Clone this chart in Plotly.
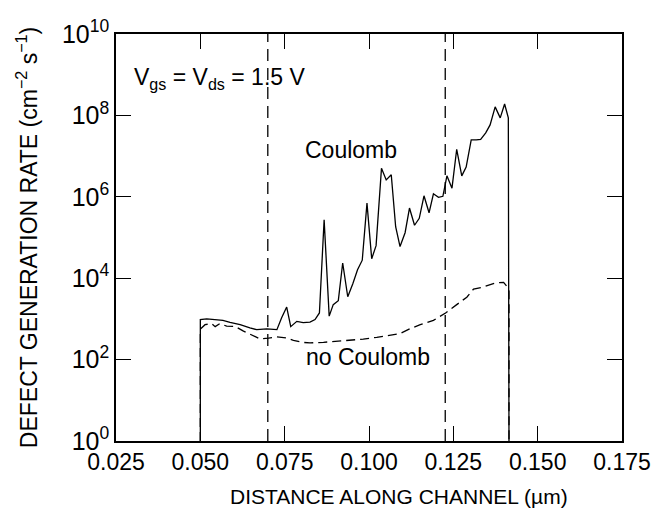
import plotly.graph_objects as go

# ---- data ----
coul_x = [0.0500, 0.0500, 0.0519, 0.0544, 0.0567, 0.0588, 0.0618, 0.0647, 0.0667, 0.0697,
          0.0727, 0.0741, 0.0756, 0.0768, 0.0786, 0.0805, 0.0825, 0.0840, 0.0853, 0.0867,
          0.0882, 0.0894, 0.0909, 0.0922, 0.0937, 0.0952, 0.0966, 0.0980, 0.0994, 0.1008,
          0.1021, 0.1037, 0.1051, 0.1066, 0.1079, 0.1092, 0.1107, 0.1120, 0.1135, 0.1149,
          0.1163, 0.1178, 0.1191, 0.1206, 0.1219, 0.1231, 0.1246, 0.1260, 0.1275, 0.1288,
          0.1303, 0.1318, 0.1331, 0.1346, 0.1359, 0.1374, 0.1389, 0.1402, 0.1413, 0.1415]
coul_y = [1, 960, 1000, 960, 920, 820, 720, 600, 545, 570,
          545, 1070, 1960, 645, 870, 810, 830, 960, 1400, 2.73e5,
          1170, 2240, 2800, 2.36e4, 3500, 7330, 1.62e4, 2.77e4, 7.0e5, 3.0e4,
          6.3e4, 5.0e6, 2.6e6, 3.47e6, 1.84e5, 6.0e4, 1.31e5, 5.3e5, 2.0e5, 2.97e5,
          1.06e6, 4.05e5, 1.19e6, 9.7e5, 1.03e6, 3.27e6, 1.63e6, 1.47e7, 3.27e6, 5.36e6,
          2.5e7, 2.5e7, 2.58e7, 3.72e7, 5.85e7, 1.62e8, 8.7e7, 1.91e8, 8.7e7, 1]

nocoul_x = [0.0500, 0.0500, 0.0514, 0.0534, 0.0544, 0.0558, 0.0578, 0.0603, 0.0628, 0.0652,
            0.0677, 0.0702, 0.0727, 0.0756, 0.0776, 0.0801, 0.0825, 0.0865, 0.0905, 0.0944,
            0.0983, 0.1023, 0.1057, 0.1092, 0.1122, 0.1152, 0.1191, 0.1227, 0.1260, 0.1290,
            0.1310, 0.1339, 0.1374, 0.1399, 0.1409, 0.1415, 0.1415]
nocoul_y = [1, 560, 722, 765, 645, 765, 664, 656, 500, 410,
            322, 337, 361, 341, 298, 266, 257, 266, 281, 301,
            319, 352, 399, 435, 576, 722, 921, 1400, 2240, 3420,
            5430, 6080, 7620, 7890, 6290, 4740, 1]

region_x = [0.0700, 0.1226]

x_ticks = [0.025, 0.050, 0.075, 0.100, 0.125, 0.150, 0.175]
x_ticktext = ["0.025", "0.050", "0.075", "0.100", "0.125", "0.150", "0.175"]
y_ticks = [1, 1e2, 1e4, 1e6, 1e8, 1e10]
y_ticktext = ["10<sup>0</sup>", "10<sup>2</sup>", "10<sup>4</sup>", "10<sup>6</sup>",
              "10<sup>8</sup>", "10<sup>10</sup>"]

FONT = "Liberation Sans, Arial, sans-serif"

fig = go.Figure()
for xv in region_x:
    fig.add_trace(go.Scatter(x=[xv, xv], y=[1, 1e10], mode="lines",
                             line=dict(color="black", width=1.3, dash="12px,7px"),
                             showlegend=False, hoverinfo="skip"))
fig.add_trace(go.Scatter(x=nocoul_x, y=nocoul_y, mode="lines",
                         line=dict(color="black", width=1.3, dash="9px,5px"),
                         showlegend=False, name="no Coulomb"))
fig.add_trace(go.Scatter(x=coul_x, y=coul_y, mode="lines",
                         line=dict(color="black", width=1.3),
                         showlegend=False, name="Coulomb"))

fig.add_annotation(x=0.0947, y=7.15, xref="x", yref="y", text="Coulomb", showarrow=False,
                   font=dict(size=23, color="black", family=FONT))
fig.add_annotation(x=0.0997, y=2.06, xref="x", yref="y", text="no Coulomb", showarrow=False,
                   font=dict(size=23, color="black", family=FONT))
fig.add_annotation(x=0.0298, y=8.9, xref="x", yref="y", xanchor="left",
                   text="V<sub>gs</sub> = V<sub>ds</sub> = 1.5 V", showarrow=False,
                   font=dict(size=23, color="black", family=FONT))
# x-axis title (slightly right of centre, as in the reference)
fig.add_annotation(x=0.56, y=-0.137, xref="paper", yref="paper", yanchor="middle",
                   text="DISTANCE ALONG CHANNEL (µm)", showarrow=False,
                   font=dict(size=21, color="black", family=FONT))

fig.update_xaxes(range=[0.025, 0.175], tickvals=x_ticks, ticktext=x_ticktext,
                 ticks="inside", ticklen=15, tickwidth=1, tickcolor="black",
                 showline=True, linewidth=1.5, linecolor="black", mirror="allticks",
                 showgrid=False, zeroline=False,
                 tickfont=dict(size=23, color="black", family=FONT))
fig.update_yaxes(type="log", range=[0, 10], tickvals=y_ticks, ticktext=y_ticktext,
                 ticks="inside", ticklen=15, tickwidth=1, tickcolor="black",
                 showline=True, linewidth=1.5, linecolor="black", mirror="allticks",
                 showgrid=False, zeroline=False,
                 tickfont=dict(size=25, color="black", family=FONT),
                 title=dict(text="DEFECT GENERATION RATE (cm<sup>−2</sup> s<sup>−1</sup>)",
                            font=dict(size=23, color="black", family=FONT), standoff=18))

fig.update_layout(width=668, height=510, margin=dict(l=116, r=46, t=34, b=69),
                  paper_bgcolor="white", plot_bgcolor="white", showlegend=False)

fig.write_html("out.html")
